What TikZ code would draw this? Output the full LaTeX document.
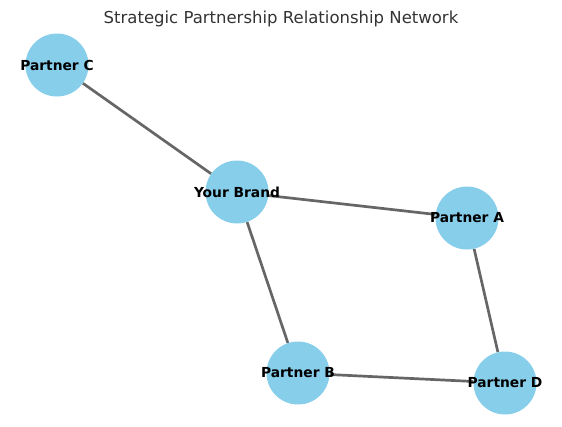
\documentclass[tikz,border=0pt]{standalone}
\usepackage{fontspec}
\setmainfont{DejaVu Sans}
\usetikzlibrary{backgrounds}
\definecolor{nodefill}{HTML}{87CEEB}
\definecolor{edgegray}{HTML}{666666}
\definecolor{titlegray}{HTML}{333333}
\tikzset{
  partner/.style={circle, fill=nodefill, minimum size=63pt, inner sep=0pt, label={[font=\fontsize{13.8}{16}\selectfont\bfseries, text=black]center:#1}},
  heading/.style={font=\fontsize{16.5}{19}\selectfont, text=titlegray},
  link/.style={draw=edgegray, line width=2.7pt}
}
\begin{document}
\begin{tikzpicture}[x=1pt, y=-1pt]
\useasboundingbox (0,0) rectangle (562,426);

\node[heading] (title) at (281,19) {Strategic Partnership Relationship Network};

\node[partner={Partner C}] (partnerC) at (57,65) {};
\node[partner={Your Brand}] (brand) at (237,192) {};
\node[partner={Partner A}] (partnerA) at (467,218) {};
\node[partner={Partner B}] (partnerB) at (298,373) {};
\node[partner={Partner D}] (partnerD) at (505,383) {};

\begin{scope}[on background layer]
\draw[link] (partnerC) -- (brand);
\draw[link] (brand) -- (partnerA);
\draw[link] (brand) -- (partnerB);
\draw[link] (partnerB) -- (partnerD);
\draw[link] (partnerA) -- (partnerD);
\end{scope}

\end{tikzpicture}
\end{document}
